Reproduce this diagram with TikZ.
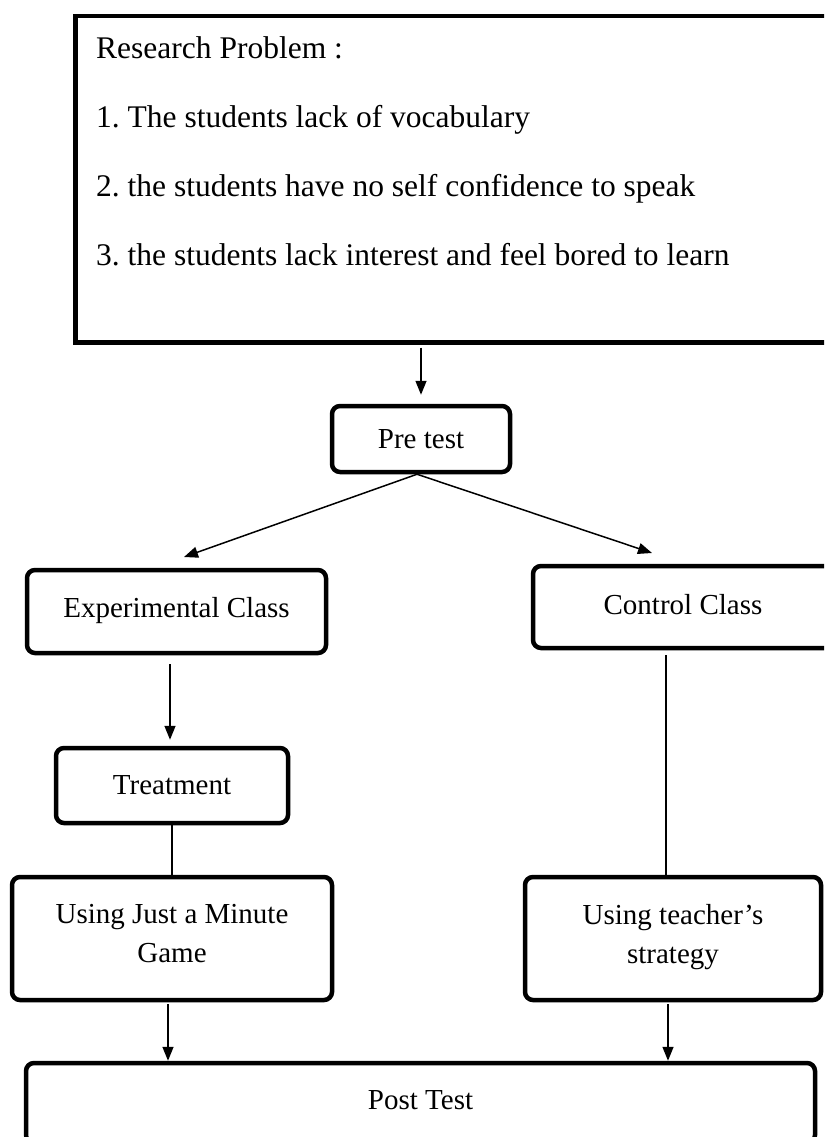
\documentclass[tikz,border=0pt]{standalone}
\usepackage{fontspec}
\setmainfont{Liberation Serif}
\usetikzlibrary{arrows.meta}
\frenchspacing
\begin{document}
\begin{tikzpicture}[x=1pt,y=-1pt,
  box/.style={draw, line width=4.5pt, rounded corners=8pt, inner sep=0pt, align=center,
    font=\fontsize{29}{39}\selectfont},
  sqbox/.style={draw, line width=4.5pt, inner sep=0pt},
  arr/.style={line width=1.5pt, -{Triangle[length=14pt,width=11pt]}},
  conn/.style={line width=1.5pt}]
\useasboundingbox (0,0) rectangle (824,1137);
\clip (0,0) rectangle (824,1137);
% research problem
\node[sqbox, anchor=north west, minimum width=780pt, minimum height=326pt] (rbox) at (73,14) {};
\node[anchor=north west, align=left, inner sep=0pt,
  font=\fontsize{31.5}{69}\selectfont] (rtext) at (96,36)
  {Research Problem :\\1. The students lack of vocabulary\\2. the students have no self confidence to speak\\3. the students lack interest and feel bored to learn};
% nodes
\node[box, minimum width=178pt, minimum height=66pt] (pre) at (421,439) {Pre test};
\node[box, minimum width=299pt, minimum height=83pt, text depth=0.8em] (exp) at (176.5,611.5) {Experimental Class};
\node[box, minimum width=300pt, minimum height=82pt, text depth=0.6em] (ctrl) at (683,607) {Control Class};
\node[box, minimum width=232pt, minimum height=75pt] (treat) at (172,785.5) {Treatment};
\node[box, minimum width=320pt, minimum height=123pt, text depth=1em] (usej) at (172,938.5) {Using Just a Minute\\Game};
\node[box, minimum width=296pt, minimum height=123pt, text depth=1em] (teach) at (673,938.5) {Using teacher’s\\strategy};
\node[box, minimum width=789pt, minimum height=80pt, text depth=0.65em] (post) at (420.5,1103) {Post Test};
% connectors
\draw[arr, shorten <=3pt, shorten >=9pt] (pre.north |- rbox.south) -- (pre.north);
\coordinate (el) at (184,557);
\coordinate (er) at (652,553);
\draw[arr] ([xshift=-4pt]pre.south) -- (el);
\draw[arr] ([xshift=-4pt]pre.south) -- (er);
\draw[arr, shorten <=9pt, shorten >=6pt] ([xshift=-2pt]treat.north |- exp.south) -- ([xshift=-2pt]treat.north);
\draw[conn] (treat.south) -- (usej.north);
\coordinate (cl) at (666,655);
\draw[conn] (cl) -- (cl |- teach.north);
\draw[arr, shorten <=2pt] ([xshift=-4pt]usej.south) -- ([xshift=-4pt]usej.south |- post.north);
\draw[arr, shorten <=2pt] ([xshift=-5pt]teach.south) -- ([xshift=-5pt]teach.south |- post.north);
\end{tikzpicture}
\end{document}
